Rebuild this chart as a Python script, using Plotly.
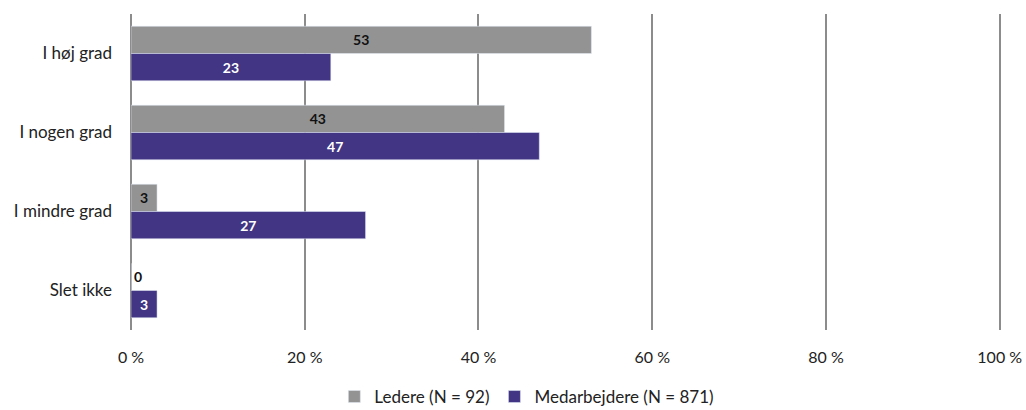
import plotly.graph_objects as go

categories = ['I høj grad', 'I nogen grad', 'I mindre grad', 'Slet ikke']
ledere = [53, 43, 3, 0]
medarbejdere = [23, 47, 27, 3]
series_names = ['Ledere (N = 92)', 'Medarbejdere (N = 871)']
x_ticks = [0, 20, 40, 60, 80, 100]
x_tick_labels = ['0 %', '20 %', '40 %', '60 %', '80 %', '100 %']

FONT = 'Source Sans Pro, Lato, sans-serif'

fig = go.Figure()

# Ledere bars (grey) - zero value label sits outside the bar
fig.add_trace(go.Bar(
    y=categories,
    x=ledere,
    orientation='h',
    name=series_names[0],
    marker=dict(color='#939393'),
    text=[str(v) for v in ledere],
    textposition=['inside' if v > 0 else 'outside' for v in ledere],
    insidetextanchor='middle',
    textangle=0,
    textfont=dict(family=FONT, size=14, color='#111111', weight='bold'),
    cliponaxis=False,
))

# Medarbejdere bars (purple)
fig.add_trace(go.Bar(
    y=categories,
    x=medarbejdere,
    orientation='h',
    name=series_names[1],
    marker=dict(color='#423583'),
    text=[str(v) for v in medarbejdere],
    textposition='inside',
    insidetextanchor='middle',
    textangle=0,
    textfont=dict(family=FONT, size=14, color='#ffffff', weight='bold'),
))

fig.update_layout(
    width=1026,
    height=410,
    barmode='group',
    bargap=0.31,
    bargroupgap=0,
    plot_bgcolor='white',
    paper_bgcolor='white',
    font=dict(family=FONT, size=16, color='#222222'),
    margin=dict(l=131, r=25, t=14, b=80, autoexpand=False),
    uniformtext=dict(minsize=12, mode='show'),
    xaxis=dict(
        range=[0, 100.15],
        tickvals=x_ticks,
        ticktext=x_tick_labels,
        automargin=False,
        showgrid=True,
        gridcolor='#8c8c8c',
        gridwidth=2,
        zeroline=True,
        zerolinecolor='#8c8c8c',
        zerolinewidth=2,
        showline=False,
        ticklabelstandoff=16,
        tickfont=dict(size=16),
    ),
    yaxis=dict(
        categoryorder='array',
        categoryarray=categories,
        autorange='reversed',
        automargin=False,
        showgrid=False,
        showline=False,
        ticklabelstandoff=18,
        tickfont=dict(size=17),
    ),
    legend=dict(
        orientation='h',
        x=0.455,
        xanchor='center',
        y=-0.155,
        yanchor='top',
        font=dict(size=17),
        itemwidth=30,
        traceorder='normal',
    ),
)

# drop the browser's default 8px body margin so the figure sits at the page corner
fig.write_html('out.html', config={'displayModeBar': False},
               post_script="document.body.style.margin='0';")
